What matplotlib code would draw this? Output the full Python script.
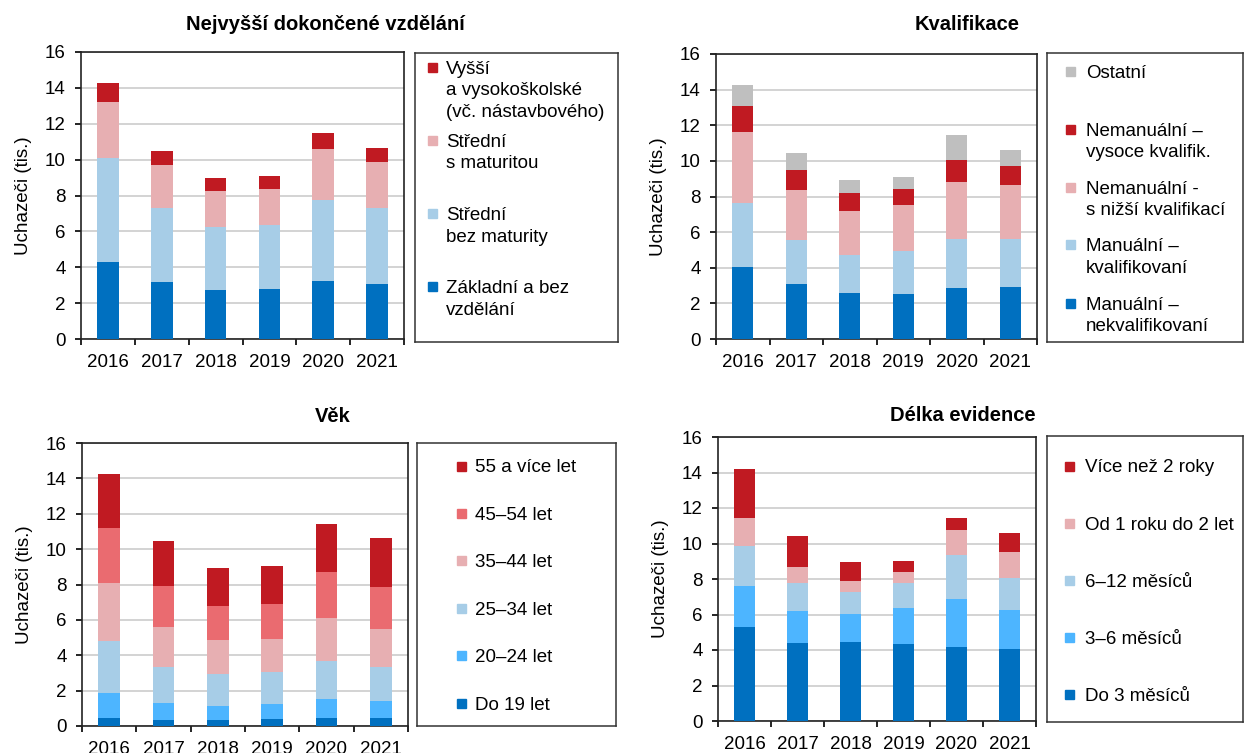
import matplotlib
matplotlib.use("Agg")
import matplotlib.pyplot as plt
import numpy as np

plt.rcParams['font.family'] = ['Liberation Sans', 'DejaVu Sans']

W, H = 1244, 753
years = ['2016', '2017', '2018', '2019', '2020', '2021']

# barvy
c_dblue = '#0070C0'
c_mblue = '#4DB5FF'
c_lblue = '#A7CDE7'
c_pink = '#E7AFB2'
c_salmon = '#EA6B70'
c_red = '#C01A22'
c_gray = '#BFBFBF'

# Nejvyšší dokončené vzdělání (tis.)
vzd_zakladni = [4.32, 3.19, 2.73, 2.76, 3.23, 3.06]
vzd_stredni_bez = [5.75, 4.14, 3.49, 3.59, 4.51, 4.23]
vzd_stredni_mat = [3.13, 2.37, 2.02, 2.02, 2.87, 2.56]
vzd_vyssi = [1.05, 0.78, 0.72, 0.70, 0.87, 0.78]
vzd_labels = ['Základní a bez\nvzdělání', 'Střední\nbez maturity', 'Střední\ns maturitou',
              'Vyšší\na vysokoškolské\n(vč. nástavbového)']

# Kvalifikace
kv_man_nekv = [4.02, 3.10, 2.58, 2.54, 2.86, 2.90]
kv_man_kv = [3.61, 2.43, 2.11, 2.39, 2.78, 2.74]
kv_neman_niz = [3.98, 2.83, 2.49, 2.57, 3.20, 2.98]
kv_neman_vys = [1.49, 1.12, 1.03, 0.93, 1.22, 1.12]
kv_ostatni = [1.16, 0.97, 0.74, 0.64, 1.40, 0.88]
kv_labels = ['Manuální –\nnekvalifikovaní', 'Manuální –\nkvalifikovaní',
             'Nemanuální -\ns nižší kvalifikací', 'Nemanuální –\nvysoce kvalifik.', 'Ostatní']

# Věk
vek_do19 = [0.45, 0.34, 0.34, 0.41, 0.45, 0.45]
vek_20_24 = [1.43, 0.96, 0.79, 0.85, 1.08, 0.96]
vek_25_34 = [2.91, 2.05, 1.83, 1.77, 2.13, 1.94]
vek_35_44 = [3.30, 2.27, 1.88, 1.87, 2.43, 2.13]
vek_45_54 = [3.12, 2.31, 1.96, 2.00, 2.60, 2.38]
vek_55 = [3.02, 2.51, 2.15, 2.13, 2.75, 2.77]
vek_labels = ['Do 19 let', '20–24 let', '25–34 let', '35–44 let', '45–54 let', '55 a více let']

# Délka evidence
ev_do3 = [5.27, 4.37, 4.46, 4.35, 4.16, 4.07]
ev_3_6 = [2.35, 1.84, 1.58, 2.03, 2.71, 2.18]
ev_6_12 = [2.23, 1.59, 1.24, 1.37, 2.47, 1.78]
ev_1_2 = [1.61, 0.89, 0.62, 0.65, 1.41, 1.48]
ev_nad2 = [2.76, 1.76, 1.03, 0.64, 0.71, 1.07]
ev_labels = ['Do 3 měsíců', '3–6 měsíců', '6–12 měsíců', 'Od 1 roku do 2 let', 'Více než 2 roky']


def px(l, t, r, b):
    return [l / W, 1 - b / H, (r - l) / W, (b - t) / H]


fig = plt.figure(figsize=(W / 100, H / 100), dpi=100)


def panel(rect, series, colors):
    ax = fig.add_axes(px(*rect))
    x = np.arange(len(years))
    bottom = np.zeros(len(years))
    for vals, col in zip(series, colors):
        ax.bar(x, vals, bottom=bottom, width=0.4, color=col, zorder=3)
        bottom += np.array(vals)
    ax.set_xlim(-0.5, len(years) - 0.5)
    ax.set_ylim(0, 16)
    ax.set_yticks(range(0, 17, 2))
    ax.set_xticks(x)
    ax.set_xticklabels(years)
    ax.set_xticks(np.arange(-0.5, len(years), 1), minor=True)
    ax.tick_params(axis='x', which='major', length=0, pad=11, labelsize=13.5)
    ax.tick_params(axis='x', which='minor', length=4, width=1.2, direction='out')
    ax.tick_params(axis='y', length=4, width=1.2, direction='out', pad=7, labelsize=13.5)
    ax.grid(axis='y', color='#D0D0D0', linewidth=1.3, zorder=0)
    for s in ax.spines.values():
        s.set_linewidth(1.2)
        s.set_color('#222222')
    ax.set_ylabel('Uchazeči (tis.)', fontsize=13.5, labelpad=9)
    return ax


def legend_box(rect, labels, colors, y0, step, mx, tx):
    l, t, r, b = rect
    lax = fig.add_axes(px(l, t, r, b))
    lax.set_xticks([])
    lax.set_yticks([])
    for s in lax.spines.values():
        s.set_linewidth(1.1)
        s.set_color('#333333')
    # nejvyšší řada nahoře
    for i, (lab, col) in enumerate(zip(labels[::-1], colors[::-1])):
        y = y0 + i * step
        fig.patches.append(plt.Rectangle(((mx - 4.5) / W, 1 - (y + 4.5) / H), 9 / W, 9 / H,
                                         transform=fig.transFigure, color=col))
        for k, line in enumerate(lab.split('\n')):
            fig.text(tx / W, 1 - (y + 6.5 + k * 21.7) / H, line, fontsize=13.5,
                     va='baseline', ha='left')


cols1 = [c_dblue, c_lblue, c_pink, c_red]
panel((81, 52, 404, 339), [vzd_zakladni, vzd_stredni_bez, vzd_stredni_mat, vzd_vyssi], cols1)
legend_box((415, 53, 618, 342), vzd_labels, cols1, 67, 73.3, 432, 446)
fig.text(325 / W, 1 - 25 / H, 'Nejvyšší dokončené vzdělání', fontsize=14.5, fontweight='bold',
         ha='center', va='center')

cols2 = [c_dblue, c_lblue, c_pink, c_red, c_gray]
panel((716, 54, 1037, 339), [kv_man_nekv, kv_man_kv, kv_neman_niz, kv_neman_vys, kv_ostatni], cols2)
legend_box((1047, 53, 1243, 342), kv_labels, cols2, 71, 58, 1070, 1086)
fig.text(967 / W, 1 - 25 / H, 'Kvalifikace', fontsize=14.5, fontweight='bold',
         ha='center', va='center')

cols3 = [c_dblue, c_mblue, c_lblue, c_pink, c_salmon, c_red]
panel((82, 443, 408, 726), [vek_do19, vek_20_24, vek_25_34, vek_35_44, vek_45_54, vek_55], cols3)
legend_box((417, 443, 616, 726), vek_labels, cols3, 466, 47.4, 461, 475)
fig.text(333 / W, 1 - 417 / H, 'Věk', fontsize=14.5, fontweight='bold',
         ha='center', va='center')

cols4 = [c_dblue, c_mblue, c_lblue, c_pink, c_red]
panel((718, 437, 1036, 721), [ev_do3, ev_3_6, ev_6_12, ev_1_2, ev_nad2], cols4)
legend_box((1047, 436, 1243, 722), ev_labels, cols4, 466, 57.2, 1069, 1085)
fig.text(963 / W, 1 - 416 / H, 'Délka evidence', fontsize=14.5, fontweight='bold',
         ha='center', va='center')

fig.savefig('out.png', dpi=100)
